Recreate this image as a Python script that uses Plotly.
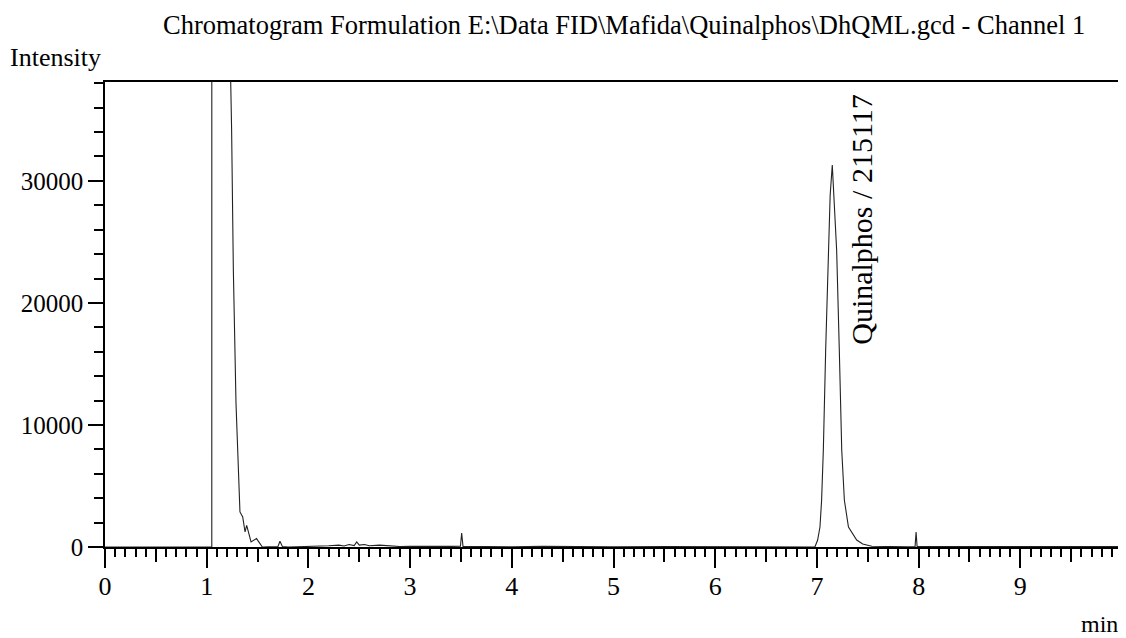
import plotly.graph_objects as go

# ---- data ----
time_min = [0.0, 0.5, 1.0, 1.05, 1.055, 1.06, 1.23, 1.236, 1.245, 1.262, 1.288, 1.311, 1.327,
            1.354, 1.377, 1.393, 1.436, 1.49, 1.547, 1.60, 1.70, 1.72, 1.745, 1.80, 1.9, 2.0,
            2.1, 2.2, 2.3, 2.35, 2.4, 2.45, 2.475, 2.5, 2.55, 2.6, 2.7, 2.8, 2.9, 3.0, 3.2,
            3.4, 3.495, 3.507, 3.52, 3.6, 3.8, 4.0, 4.3, 4.6, 5.0, 5.5, 6.0, 6.5, 6.9, 6.98,
            7.007, 7.03, 7.046, 7.063, 7.086, 7.112, 7.13, 7.151, 7.17, 7.194, 7.22, 7.244,
            7.27, 7.31, 7.391, 7.45, 7.54, 7.7, 7.9, 7.965, 7.975, 7.985, 8.2, 8.5, 9.0, 9.5,
            9.98]
intensity = [0, 0, 0, 0, 900000, 900000, 900000, 38100, 34170, 22700, 11800, 5470, 2870,
             2460, 1230, 1780, 410, 690, 0, 20, 30, 470, 30, 0, 20, 0,
             40, 100, 150, 80, 200, 120, 410, 150, 200, 100, 150, 80, 40, 60, 30,
             50, 60, 1150, 50, 40, 30, 20, 60, 30, 20, 30, 20, 20, 20, 0,
             570, 1640, 3830, 7930, 16140, 24320, 28800, 31300, 28500, 24320, 16140, 7930,
             3830, 1640, 570, 250, 60, 20, 20, 30, 1230, 30, 30, 40, 30, 60,
             40]

peak_time = 7.151
peak_label = "Quinalphos / 215117"

x_half = [0, 0.5, 1, 1.5, 2, 2.5, 3, 3.5, 4, 4.5, 5, 5.5, 6, 6.5, 7, 7.5, 8, 8.5, 9, 9.5]
x_half_text = ["0", "", "1", "", "2", "", "3", "", "4", "", "5", "", "6", "", "7", "",
               "8", "", "9", ""]
x_major = [0, 1, 2, 3, 4, 5, 6, 7, 8, 9]
y_major = [0, 10000, 20000, 30000]
y_major_text = ["0", "10000", "20000", "30000"]

title_text = r"Chromatogram Formulation E:\Data FID\Mafida\Quinalphos\DhQML.gcd - Channel 1"

FONT = "Liberation Serif"
X_RANGE = [0, 9.98]
Y_RANGE = [0, 38100]

fig = go.Figure()
fig.add_trace(go.Scatter(x=time_min, y=intensity, mode="lines",
                         line=dict(color="#222222", width=1.1),
                         hoverinfo="skip", showlegend=False, cliponaxis=True))
# empty trace so the secondary (long integer tick) x axis is drawn
fig.add_trace(go.Scatter(x=[None], y=[None], xaxis="x2", yaxis="y",
                         mode="lines", showlegend=False, hoverinfo="skip"))

# the page body adds an 8px offset, so margins are set to compensate
fig.update_layout(
    width=1126, height=638,
    margin=dict(l=97, r=14, t=74, b=99),
    paper_bgcolor="white", plot_bgcolor="white",
    font=dict(family=FONT, color="black", size=23),
    xaxis=dict(range=X_RANGE, showgrid=False, zeroline=False, automargin=False,
               showline=True, linecolor="black", linewidth=1.5, mirror=True,
               ticks="outside", tickvals=x_half, ticktext=x_half_text,
               ticklen=13, tickwidth=1.5, tickcolor="black",
               tickfont=dict(family=FONT, size=26, color="black"),
               ticklabelstandoff=2,
               minor=dict(dtick=0.1, tick0=0, ticks="outside", ticklen=8,
                          tickwidth=1.5, tickcolor="black", showgrid=False)),
    xaxis2=dict(range=X_RANGE, overlaying="x", side="bottom", showgrid=False,
                zeroline=False, showline=False, automargin=False,
                ticks="outside", tickvals=x_major, showticklabels=False,
                ticklen=20, tickwidth=1.5, tickcolor="black"),
    yaxis=dict(range=Y_RANGE, showgrid=False, zeroline=False, automargin=False,
               showline=True, linecolor="black", linewidth=1.5, mirror=True,
               ticks="outside", tickvals=y_major, ticktext=y_major_text,
               ticklen=15, tickwidth=1.5, tickcolor="black",
               tickfont=dict(family=FONT, size=25, color="black"),
               ticklabelstandoff=0,
               minor=dict(dtick=2000, tick0=0, ticks="outside", ticklen=9,
                          tickwidth=1.5, tickcolor="black", showgrid=False)),
    annotations=[
        dict(text=title_text, xref="paper", yref="paper", x=0.511, y=1.0,
             yshift=57, xanchor="center", yanchor="middle", showarrow=False,
             borderpad=0,
             font=dict(family=FONT, size=26.5, color="black")),
        dict(text="Intensity", xref="paper", yref="paper", x=0, y=1.0,
             xshift=-97, yshift=25, xanchor="left", yanchor="middle", showarrow=False,
             font=dict(family=FONT, size=26, color="black")),
        dict(text="min", xref="paper", yref="paper", x=1.0, y=0,
             yshift=-77, xanchor="right", yanchor="middle", showarrow=False,
             font=dict(family=FONT, size=24, color="black")),
        dict(text=peak_label, x=peak_time, xref="x", y=1.0, yref="paper",
             xshift=29, yshift=-10, textangle=-90, xanchor="center", yanchor="top",
             showarrow=False, font=dict(family=FONT, size=30, color="black")),
    ],
)

fig.write_html("out.html")
